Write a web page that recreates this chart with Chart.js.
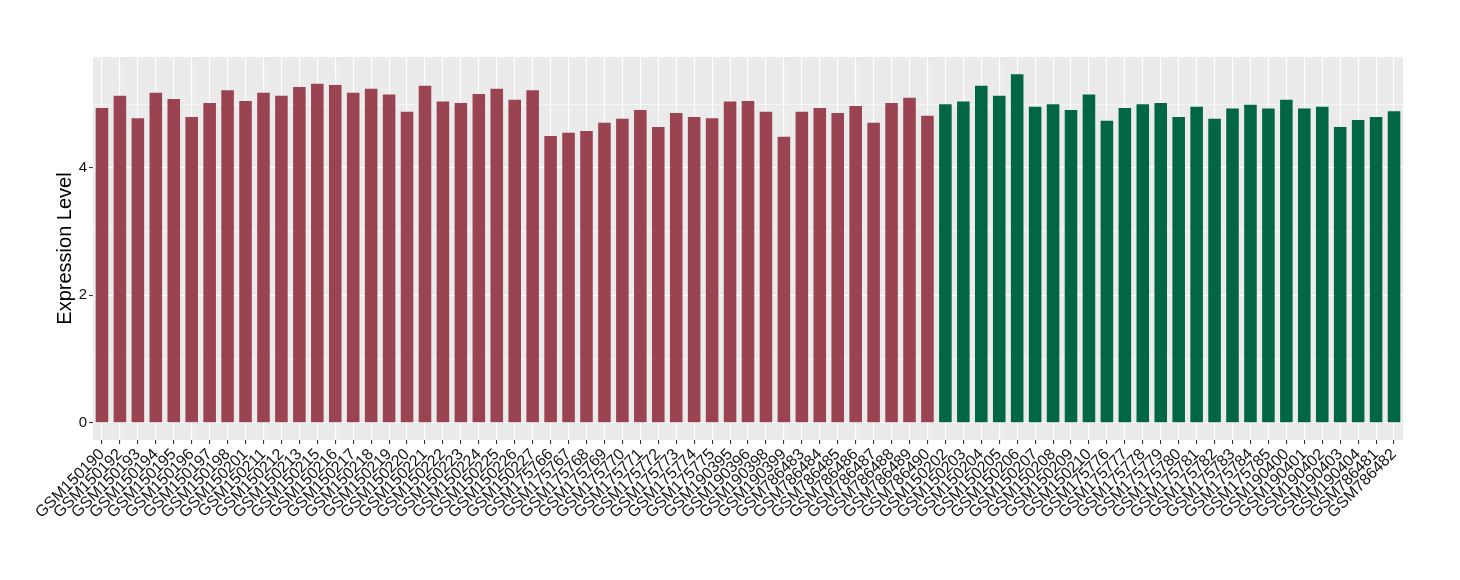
<!DOCTYPE html>
<html>
<head>
<meta charset="utf-8">
<title>Expression Level</title>
<script src="https://cdn.jsdelivr.net/npm/chart.js@4"></script>
<style>
  html, body { margin: 0; padding: 0; background: #fff; }
  canvas { display: block; }
</style>
</head>
<body>
<canvas id="chart" width="1460" height="580"></canvas>
<script>
// first group (red)
const redSamples = [
  "GSM150190", "GSM150192", "GSM150193", "GSM150194", "GSM150195", "GSM150196",
  "GSM150197", "GSM150198", "GSM150201", "GSM150211", "GSM150212", "GSM150213",
  "GSM150215", "GSM150216", "GSM150217", "GSM150218", "GSM150219", "GSM150220",
  "GSM150221", "GSM150222", "GSM150223", "GSM150224", "GSM150225", "GSM150226",
  "GSM150227", "GSM175766", "GSM175767", "GSM175768", "GSM175769", "GSM175770",
  "GSM175771", "GSM175772", "GSM175773", "GSM175774", "GSM175775", "GSM190395",
  "GSM190396", "GSM190398", "GSM190399", "GSM786483", "GSM786484", "GSM786485",
  "GSM786486", "GSM786487", "GSM786488", "GSM786489", "GSM786490"
];
const redValues = [
  4.94, 5.13, 4.78, 5.18, 5.08, 4.80, 5.02, 5.22, 5.05, 5.18, 5.13, 5.27,
  5.32, 5.30, 5.18, 5.24, 5.15, 4.88, 5.29, 5.04, 5.02, 5.16, 5.24, 5.07,
  5.22, 4.50, 4.55, 4.58, 4.71, 4.77, 4.91, 4.64, 4.86, 4.80, 4.78, 5.04,
  5.05, 4.88, 4.49, 4.88, 4.94, 4.86, 4.97, 4.71, 5.02, 5.10, 4.82
];

// second group (green)
const greenSamples = [
  "GSM150202", "GSM150203", "GSM150204", "GSM150205", "GSM150206", "GSM150207",
  "GSM150208", "GSM150209", "GSM150210", "GSM175776", "GSM175777", "GSM175778",
  "GSM175779", "GSM175780", "GSM175781", "GSM175782", "GSM175783", "GSM175784",
  "GSM175785", "GSM190400", "GSM190401", "GSM190402", "GSM190403", "GSM190404",
  "GSM786481", "GSM786482"
];
const greenValues = [
  5.00, 5.04, 5.29, 5.13, 5.47, 4.96, 5.00, 4.91, 5.15, 4.74, 4.94, 5.00,
  5.02, 4.80, 4.96, 4.77, 4.93, 4.99, 4.93, 5.07, 4.93, 4.96, 4.64, 4.75,
  4.80, 4.89
];

const yTicks = [0, 1, 2, 3, 4, 5];

const RED = '#9a4351';
const GREEN = '#006644';

const labels = redSamples.concat(greenSamples);
const values = redValues.concat(greenValues);
const colors = redValues.map(() => RED).concat(greenValues.map(() => GREEN));

// grey panel behind the bars, like ggplot's theme_gray
const panelBackground = {
  id: 'panelBackground',
  beforeDraw(chart) {
    const { ctx, chartArea } = chart;
    ctx.save();
    ctx.fillStyle = '#ebebeb';
    ctx.fillRect(chartArea.left, chartArea.top, chartArea.width, chartArea.height);
    ctx.restore();
  }
};

new Chart(document.getElementById('chart'), {
  type: 'bar',
  data: {
    labels: labels,
    datasets: [{
      data: values,
      backgroundColor: colors,
      borderWidth: 0,
      categoryPercentage: 1,
      barPercentage: 0.7
    }]
  },
  options: {
    responsive: false,
    animation: false,
    layout: { padding: { top: 57, right: 57, left: 0, bottom: 0 } },
    plugins: {
      legend: { display: false },
      tooltip: { enabled: false }
    },
    scales: {
      x: {
        border: { display: false },
        grid: {
          offset: false,
          color: '#ffffff',
          lineWidth: 1.1,
          tickColor: '#333333',
          tickLength: 4
        },
        ticks: {
          autoSkip: false,
          minRotation: 45,
          maxRotation: 45,
          padding: 1,
          color: '#111111',
          font: { family: 'Liberation Sans', size: 16 }
        },
        afterFit: s => { s.height = 140; }
      },
      y: {
        min: -0.27,
        max: 5.74,
        border: { display: false },
        afterBuildTicks: s => { s.ticks = yTicks.map(v => ({ value: v })); },
        grid: {
          color: '#ffffff',
          lineWidth: ctx => (ctx.tick && ctx.tick.value % 2 === 0 ? 1.1 : 0.55),
          tickColor: ctx => (ctx.tick && ctx.tick.value % 2 === 0 ? '#333333' : 'rgba(0,0,0,0)'),
          tickLength: 4
        },
        ticks: {
          padding: 2,
          color: '#111111',
          font: { family: 'Liberation Sans', size: 15 },
          callback: v => (v % 2 === 0 ? v : '')
        },
        title: {
          display: true,
          text: 'Expression Level',
          color: '#000000',
          font: { family: 'Liberation Sans', size: 20 },
          padding: { top: 53, bottom: 0 }
        },
        afterFit: s => { s.width = 93; }
      }
    }
  },
  plugins: [panelBackground]
});
</script>
</body>
</html>
